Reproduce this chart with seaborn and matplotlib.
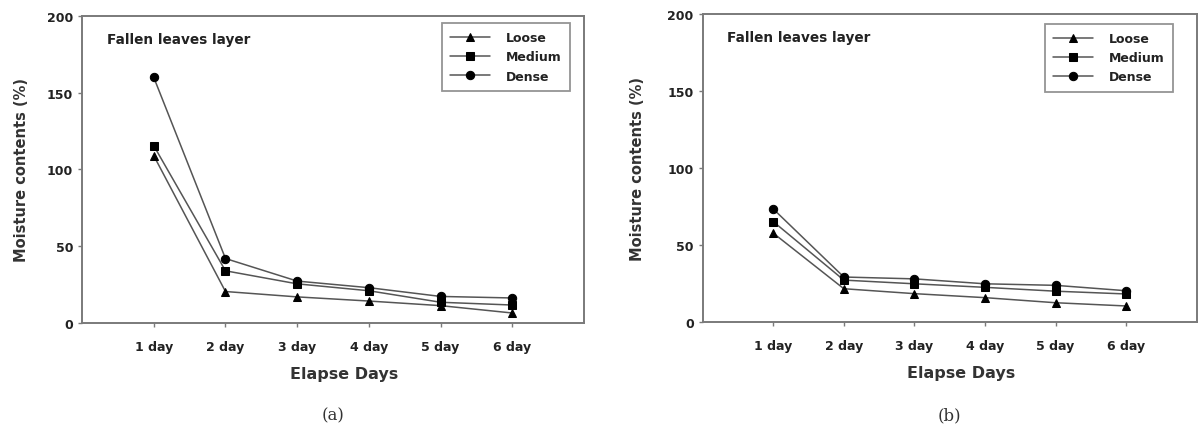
import numpy as np
import pandas as pd
import matplotlib
matplotlib.use("Agg")
import matplotlib.pyplot as plt
import seaborn as sns

days = ["1 day", "2 day", "3 day", "4 day", "5 day", "6 day"]
series_names = ["Loose", "Medium", "Dense"]

a_loose = [109, 20.5, 17, 14.3, 11.3, 6.5]
a_medium = [115.5, 34, 25.5, 21, 13.5, 11.7]
a_dense = [160, 42, 27.3, 23, 17.3, 16.3]

b_loose = [57.7, 21.6, 18.4, 15.8, 12.5, 10.4]
b_medium = [65.2, 27.2, 24.8, 22.5, 20.0, 18.2]
b_dense = [73.4, 29.2, 28.0, 24.8, 23.8, 20.3]

panel_text = "Fallen leaves layer"
x_label = "Elapse Days"
y_label = "Moisture contents (%)"
captions = ["(a)", "(b)"]

sns.set_theme(style="white")
plt.rcParams["font.family"] = ["DejaVu Sans"]

fig = plt.figure(figsize=(12.03, 4.35), dpi=100)
axes = [fig.add_axes([0.0682, 0.2552, 0.4173, 0.7057]),
        fig.add_axes([0.5841, 0.2575, 0.4107, 0.7080])]
legend_anchor = [(0.972, 0.977), (0.952, 0.968)]
ylabel_pad = [13, 16]

frame_col = "#7a7a7a"
markers = {"Loose": "^", "Medium": "s", "Dense": "o"}

def make_df(vals):
    rows = []
    for name, v in zip(series_names, vals):
        for i, d in enumerate(days):
            rows.append({"day": i + 1, "Density": name, "value": v[i]})
    return pd.DataFrame(rows)

for k, (ax, vals, cap) in enumerate(zip(axes, [(a_loose, a_medium, a_dense), (b_loose, b_medium, b_dense)], captions)):
    df = make_df(vals)
    sns.lineplot(data=df, x="day", y="value", style="Density", style_order=series_names,
                 markers=markers, dashes=False, color="#555555", linewidth=1.1,
                 markersize=6, markerfacecolor="black", markeredgecolor="black",
                 ax=ax)
    ax.set_xlim(0, 7)
    ax.set_ylim(0, 200)
    ax.set_xticks(range(1, 7))
    ax.set_xticklabels(days)
    ax.set_yticks([0, 50, 100, 150, 200])
    for sp in ax.spines.values():
        sp.set_color(frame_col)
        sp.set_linewidth(1.4)
    ax.tick_params(axis="both", which="both", direction="out", length=3, width=1,
                   color=frame_col, labelsize=9, bottom=True, left=True)
    ax.tick_params(axis="x", pad=9)
    for lab in ax.get_xticklabels() + ax.get_yticklabels():
        lab.set_fontweight("bold")
        lab.set_color("#222222")
    ax.set_xlabel(x_label, fontsize=11.5, fontweight="bold", color="#333333", labelpad=9)
    ax.xaxis.set_label_coords(0.523, -0.14)
    ax.set_ylabel(y_label, fontsize=10.5, fontweight="bold", color="#333333",
                  labelpad=ylabel_pad[k])
    ax.text(0.05, 0.925, panel_text, transform=ax.transAxes, fontsize=9.8,
            fontweight="bold", color="#222222", va="center", ha="left")
    handles, labels = ax.get_legend_handles_labels()
    leg = ax.legend(handles, labels, loc="upper right", bbox_to_anchor=legend_anchor[k],
                    frameon=True, fancybox=False, fontsize=9, handlelength=3.2,
                    labelspacing=0.5, borderpad=0.65, handletextpad=1.3, borderaxespad=0)
    leg.get_frame().set_edgecolor(frame_col)
    leg.get_frame().set_linewidth(1.3)
    for t in leg.get_texts():
        t.set_fontweight("bold")
        t.set_color("#222222")
    ax.text(0.5, -0.30, cap, transform=ax.transAxes, fontsize=12, family="DejaVu Serif",
            color="#333333", ha="center", va="center")

fig.savefig("out.png", dpi=100, facecolor="white")
